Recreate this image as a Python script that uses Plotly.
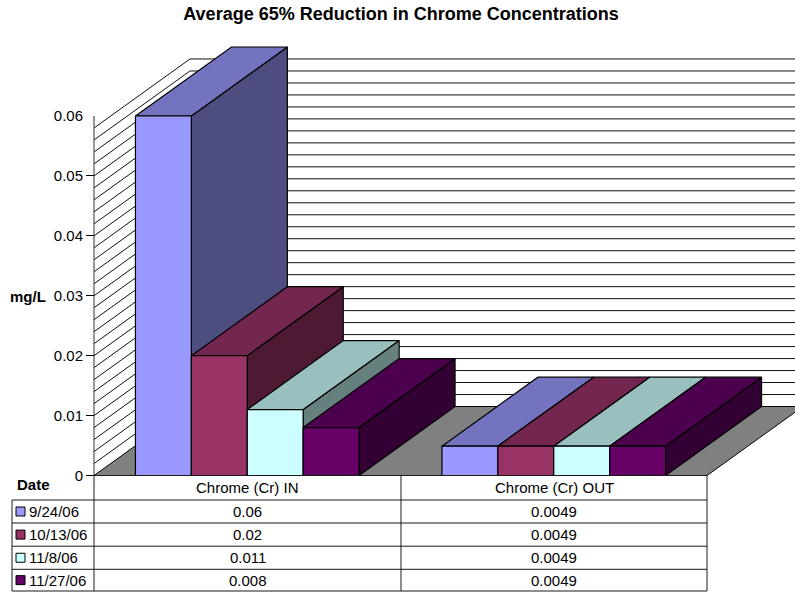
import plotly.graph_objects as go

# ---- data ----
title = "Average 65% Reduction in Chrome Concentrations"
categories = ["Chrome (Cr) IN", "Chrome (Cr) OUT"]
dates = ["9/24/06", "10/13/06", "11/8/06", "11/27/06"]
chrome_in = [0.06, 0.02, 0.011, 0.008]
chrome_out = [0.0049, 0.0049, 0.0049, 0.0049]
y_labels = [0, 0.01, 0.02, 0.03, 0.04, 0.05, 0.06]
y_label_text = ["0", "0.01", "0.02", "0.03", "0.04", "0.05", "0.06"]
y_tick_marks = [0, 0.01, 0.02, 0.03, 0.04, 0.05]
grid_values = [0.002, 0.004, 0.006, 0.008, 0.01, 0.012, 0.014, 0.016, 0.018, 0.02,
               0.022, 0.024, 0.026, 0.028, 0.03, 0.032, 0.034, 0.036, 0.038, 0.04,
               0.042, 0.044, 0.046, 0.048, 0.05, 0.052, 0.054, 0.056, 0.058]
front_colors = ["#9999FF", "#993366", "#CCFFFF", "#660066"]
top_colors = ["#7373BF", "#732650", "#99BFBF", "#4D004D"]
side_colors = ["#4D4D80", "#4D1933", "#668080", "#330033"]

# ---- layout geometry (page pixels) ----
W, H = 795, 592
X_L, X_R = 94.0, 707.0
Y_0, Y_TOP = 475.5, 116.0
CAT_PX = (X_R - X_L) / 2
V_PX = (Y_0 - Y_TOP) / 0.06          # pixels per data unit
DX = 96 / CAT_PX                     # depth shift in x units
DY = 69 / V_PX                       # depth shift in y units
BAR_W = 55.9 / CAT_PX
LINE = "#000000"
GRID = "#111111"
FONT = "Liberation Sans, Arial, sans-serif"
xl, xr = -0.5, 1.5


def px(x):
    return x / W


def py(y):
    return 1 - y / H


def poly(xs, ys, fill, lw=1.2, lc=LINE):
    return go.Scatter(x=xs, y=ys, mode="lines", fill="toself", fillcolor=fill,
                      line=dict(color=lc, width=lw), hoverinfo="skip",
                      showlegend=False)


fig = go.Figure()

# floor
fig.add_trace(poly([xl, xl + DX, xr + DX, xr, xl], [0, DY, DY, 0, 0], "#808080", 1))

# wall grid: left wall diagonals and back wall horizontals
gx, gy = [], []
for v in grid_values:
    gx += [xl, xl + DX, xr + DX + 0.05, None]
    gy += [v, v + DY, v + DY, None]
fig.add_trace(go.Scatter(x=gx, y=gy, mode="lines", line=dict(color=GRID, width=1),
                         hoverinfo="skip", showlegend=False))

# value axis line
fig.add_trace(go.Scatter(x=[xl, xl], y=[0, y_labels[-1]], mode="lines",
                         line=dict(color="#333333", width=1), hoverinfo="skip", showlegend=False))

# bars: painted left to right, each as side, top, front
for c, values in enumerate([chrome_in, chrome_out]):
    for i, v in enumerate(values):
        x0 = c + (i - 2) * BAR_W
        x1 = x0 + BAR_W
        fig.add_trace(poly([x1, x1 + DX, x1 + DX, x1, x1], [0, DY, v + DY, v, 0], side_colors[i]))
        fig.add_trace(poly([x0, x1, x1 + DX, x0 + DX, x0], [v, v, v + DY, v + DY, v], top_colors[i]))
        fig.add_trace(poly([x0, x1, x1, x0, x0], [0, 0, v, v, 0], front_colors[i]))

# data table rules
row_y = [500, 523, 546.2, 569.3, 591]
shapes = []


def rule(x0, y0, x1, y1):
    shapes.append(dict(type="line", xref="paper", yref="paper", x0=px(x0), y0=py(y0),
                       x1=px(x1), y1=py(y1), line=dict(color="#1a1a1a", width=1)))


for y in row_y:
    rule(12, y, X_R, y)
rule(X_L, Y_0, X_R, Y_0)
rule(12, row_y[0], 12, row_y[-1])
rule(X_L, Y_0, X_L, row_y[-1])
rule(401, Y_0, 401, row_y[-1])
rule(X_R, Y_0, X_R, row_y[-1])

annotations = []


def label(x, y, text, anchor="center", bold=False, size=15):
    annotations.append(dict(xref="paper", yref="paper", x=px(x), y=py(y), text=f"<b>{text}</b>" if bold else text,
                            xanchor=anchor, yanchor="middle", showarrow=False,
                            borderpad=0, borderwidth=0,
                            font=dict(family=FONT, size=size, color="#000000")))


centers = [(X_L + 401) / 2, (401 + X_R) / 2]
for cname, cx in zip(categories, centers):
    label(cx, 487.5, cname)
for r, d in enumerate(dates):
    cy = (row_y[r] + row_y[r + 1]) / 2
    shapes.append(dict(type="rect", xref="paper", yref="paper",
                       x0=px(16), x1=px(25), y0=py(cy - 4.5), y1=py(cy + 4.5),
                       fillcolor=front_colors[r], line=dict(color="#000000", width=1)))
    label(29, cy, d, anchor="left")
    label(centers[0], cy, f"{chrome_in[r]:g}")
    label(centers[1], cy, f"{chrome_out[r]:g}")
label(33, 484, "Date", bold=True)
label(10, 296, "mg/L", anchor="left", bold=True)

# full-page axes so that the oblique faces are not clipped
x_range = [xl - X_L / CAT_PX, xl + (W - X_L) / CAT_PX]
y_range = [-(H - Y_0) / V_PX, Y_0 / V_PX]

fig.update_layout(
    width=W, height=H, autosize=False,
    margin=dict(l=0, r=0, t=0, b=0, pad=0),
    paper_bgcolor="white", plot_bgcolor="rgba(0,0,0,0)",
    title=dict(text=f"<b>{title}</b>", x=401 / W, y=1 - 14 / H, xanchor="center", yanchor="middle",
               xref="paper", yref="container",
               font=dict(family=FONT, size=18, color="#000000")),
    showlegend=False,
    shapes=shapes,
    annotations=annotations,
    xaxis=dict(domain=[0, 1], range=x_range, visible=False, fixedrange=True),
    yaxis=dict(domain=[0, 1], range=y_range, anchor="free", position=px(X_L), tickmode="array",
               tickvals=y_labels, ticktext=y_label_text, ticks="", ticklabelstandoff=11,
               minor=dict(tickmode="array", tickvals=y_tick_marks, ticks="outside", ticklen=8,
                          tickwidth=1, tickcolor="#000000", showgrid=False),
               showline=False, showgrid=False, zeroline=False, fixedrange=True,
               tickfont=dict(family=FONT, size=15, color="#000000")),
)

fig.write_html("out.html", config=dict(displayModeBar=False),
               post_script="document.body.style.margin='0';document.body.style.overflow='hidden';")
